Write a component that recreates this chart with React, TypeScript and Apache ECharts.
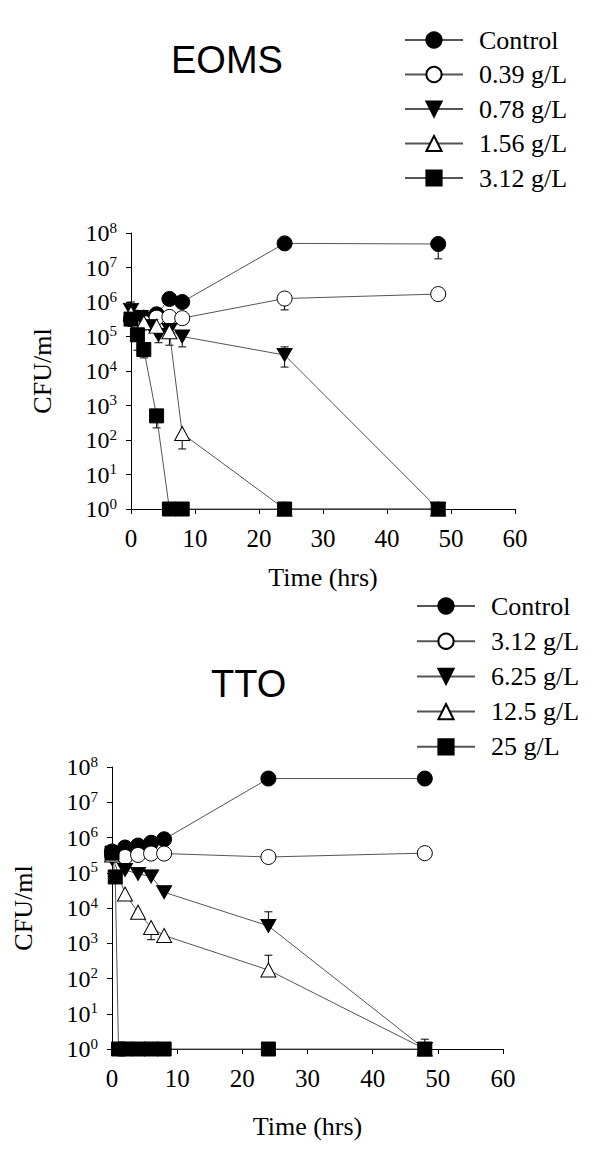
import React, { useEffect, useRef } from 'react';
import * as echarts from 'echarts';

const SERIF = 'Liberation Serif';
const SANS = 'Liberation Sans';

// ---------- data (time in hrs, CFU/ml) ----------
const EOMS_LABELS = ['Control', '0.39 g/L', '0.78 g/L', '1.56 g/L', '3.12 g/L'];
const EOMS_CONTROL = [[0, 3.2e5], [1, 3.5e5], [2, 3.5e5], [4, 4.4e5], [6, 1.23e6], [8, 1.0e6], [24, 5.0e7], [48, 4.8e7]];
const EOMS_039 = [[0, 3.2e5], [1, 2.8e5], [2, 2.5e5], [4, 3.5e5], [6, 3.7e5], [8, 3.4e5], [24, 1.26e6], [48, 1.7e6]];
const EOMS_078 = [[0, 5.9e5], [1.5, 3.7e5], [3, 2.0e5], [4.3, 1.1e5], [6, 1.55e5], [8, 1.0e5], [24, 2.9e4], [48, 1]];
const EOMS_156 = [[0, 4.7e5], [2, 2.5e5], [4, 2.0e5], [6, 1.38e5], [8, 155], [24, 1], [48, 1]];
const EOMS_312 = [[0, 3.2e5], [1, 1.12e5], [2, 4.2e4], [4, 500], [6, 1], [8, 1], [24, 1], [48, 1]];
// [time, mean, end of error bar]
const EOMS_ERR = [
  [48, 4.8e7, 1.78e7],
  [24, 1.26e6, 5.9e5], [48, 1.7e6, 1.12e6],
  [0, 5.9e5, 1.0e6], [4.3, 1.1e5, 6.6e4], [8, 1.0e5, 5.0e4], [24, 2.9e4, 5.0e4], [24, 2.9e4, 1.3e4],
  [6, 1.38e5, 5.6e4], [8, 155, 55],
  [1, 1.12e5, 4.0e4], [2, 4.2e4, 2.4e4], [4, 500, 224],
];

const TTO_LABELS = ['Control', '3.12 g/L', '6.25 g/L', '12.5 g/L', '25 g/L'];
const TTO_CONTROL = [[0, 4.0e5], [2, 5.2e5], [4, 5.9e5], [6, 7.1e5], [8, 8.9e5], [24, 4.7e7], [48, 4.7e7]];
const TTO_312 = [[0, 3.2e5], [2, 2.8e5], [4, 3.2e5], [6, 3.5e5], [8, 3.5e5], [24, 2.8e5], [48, 3.6e5]];
const TTO_625 = [[0, 2.5e5], [2, 1.2e5], [4, 9.3e4], [6, 7.9e4], [8, 2.8e4], [24, 3.1e3], [48, 1]];
const TTO_125 = [[0, 3.2e5], [2, 2.5e4], [4, 7.6e3], [6, 2.8e3], [8, 1.66e3], [24, 174], [48, 1]];
const TTO_25 = [[0, 3.6e5], [0.5, 7.6e4], [1, 1], [2, 1], [4, 1], [6, 1], [8, 1], [24, 1], [48, 1]];
const TTO_ERR = [
  [24, 3.1e3, 7.8e3], [48, 1, 1.9],
  [4, 7.6e3, 5.6e3], [6, 2.8e3, 1.26e3], [8, 1.66e3, 1.07e3], [24, 174, 457],
];

// ---------- styles ----------
const INV_TRI = 'path://M0,0L20,0L10,17Z';
const MARKERS = [
  { symbol: 'circle', size: 15, fill: '#000' },
  { symbol: 'circle', size: 15, fill: '#fff' },
  { symbol: INV_TRI, size: [15, 13], fill: '#000' },
  { symbol: 'triangle', size: [15, 14], fill: '#fff' },
  { symbol: 'rect', size: 14, fill: '#000' },
];

function lineSeries(prefix: string, labels: string[], sets: number[][][], axis: number) {
  return sets.map((d, i) => ({
    type: 'line',
    name: prefix + '|' + labels[i],
    xAxisIndex: axis,
    yAxisIndex: axis,
    data: d,
    symbol: MARKERS[i].symbol,
    symbolSize: MARKERS[i].size,
    clip: false,
    z: 3,
    lineStyle: { color: '#555', width: 1 },
    itemStyle: { color: MARKERS[i].fill, borderColor: '#000', borderWidth: 1, opacity: 1 },
    emphasis: { disabled: true },
  }));
}

function errSeries(data: number[][], axis: number) {
  return {
    type: 'custom',
    xAxisIndex: axis,
    yAxisIndex: axis,
    data,
    z: 2,
    clip: false,
    encode: { x: 0, y: 1 },
    renderItem: (params: any, api: any) => {
      const p = api.coord([api.value(0), api.value(1)]);
      const q = api.coord([api.value(0), api.value(2)]);
      const cap = 4;
      return {
        type: 'group',
        children: [
          { type: 'line', shape: { x1: p[0], y1: p[1], x2: q[0], y2: q[1] }, style: { stroke: '#000', lineWidth: 1 } },
          { type: 'line', shape: { x1: q[0] - cap, y1: q[1], x2: q[0] + cap, y2: q[1] }, style: { stroke: '#000', lineWidth: 1 } },
        ],
      };
    },
  };
}

function xAxis(gridIndex: number, nameGap: number) {
  return {
    type: 'value', gridIndex, min: 0, max: 60, interval: 10,
    name: 'Time (hrs)', nameLocation: 'middle', nameGap,
    nameTextStyle: { fontFamily: SERIF, fontSize: 26, color: '#000' },
    axisLine: { lineStyle: { color: '#000', width: 1 } },
    axisTick: { inside: false, length: 5, lineStyle: { color: '#000' } },
    axisLabel: { fontFamily: SERIF, fontSize: 25, color: '#000', margin: 17 },
    splitLine: { show: false },
  };
}

function yAxis(gridIndex: number) {
  return {
    type: 'log', logBase: 10, gridIndex, min: 1, max: 1e8,
    name: 'CFU/ml', nameLocation: 'middle', nameGap: 76,
    nameTextStyle: { fontFamily: SERIF, fontSize: 26, color: '#000' },
    axisLine: { show: true, lineStyle: { color: '#000', width: 1 } },
    axisTick: { show: true, inside: false, length: 5, lineStyle: { color: '#000' } },
    axisLabel: {
      margin: 14,
      fontFamily: SERIF,
      formatter: (v: number) => '{b|10}{s|' + Math.round(Math.log10(v)) + '}',
      rich: {
        b: { fontFamily: SERIF, fontSize: 24, lineHeight: 26, color: '#000' },
        s: { fontFamily: SERIF, fontSize: 15, lineHeight: 15, color: '#000', verticalAlign: 'top' },
      },
    },
    splitLine: { show: false },
    minorTick: { show: false },
  };
}

function legend(prefix: string, labels: string[], left: number, top: number, gap: number) {
  return {
    data: labels.map((l) => prefix + '|' + l),
    orient: 'vertical', left, top,
    itemWidth: 58, itemHeight: 19, itemGap: gap,
    selectedMode: false,
    formatter: (n: string) => n.split('|')[1],
    textStyle: { fontFamily: SERIF, fontSize: 26, lineHeight: 26, color: '#000', padding: [0, 0, 0, 11] },
  };
}

export default function App() {
  const ref = useRef<HTMLDivElement>(null);
  useEffect(() => {
    if (!ref.current) return;
    const chart = echarts.init(ref.current, undefined, { renderer: 'svg' });
    chart.setOption({
      animation: false,
      backgroundColor: '#fff',
      textStyle: { fontFamily: SERIF },
      grid: [
        { left: 131, top: 233, width: 384, height: 276 },
        { left: 112, top: 767, width: 391, height: 282 },
      ],
      xAxis: [xAxis(0, 55), xAxis(1, 64)],
      yAxis: [yAxis(0), yAxis(1)],
      legend: [
        legend('EOMS', EOMS_LABELS, 399, 22, 8.5),
        legend('TTO', TTO_LABELS, 411, 588, 9.2),
      ],
      graphic: [
        { type: 'text', left: 171, top: 41, style: { text: 'EOMS', font: '38px ' + SANS, fill: '#000' } },
        { type: 'text', left: 211, top: 665, style: { text: 'TTO', font: '38px ' + SANS, fill: '#000' } },
      ],
      series: [
        errSeries(EOMS_ERR, 0),
        ...lineSeries('EOMS', EOMS_LABELS, [EOMS_CONTROL, EOMS_039, EOMS_078, EOMS_156, EOMS_312], 0),
        errSeries(TTO_ERR, 1),
        ...lineSeries('TTO', TTO_LABELS, [TTO_CONTROL, TTO_312, TTO_625, TTO_125, TTO_25], 1),
      ],
    });
    return () => chart.dispose();
  }, []);
  return <div ref={ref} style={{ position: 'absolute', left: 0, top: 0, width: 600, height: 1156 }} />;
}
